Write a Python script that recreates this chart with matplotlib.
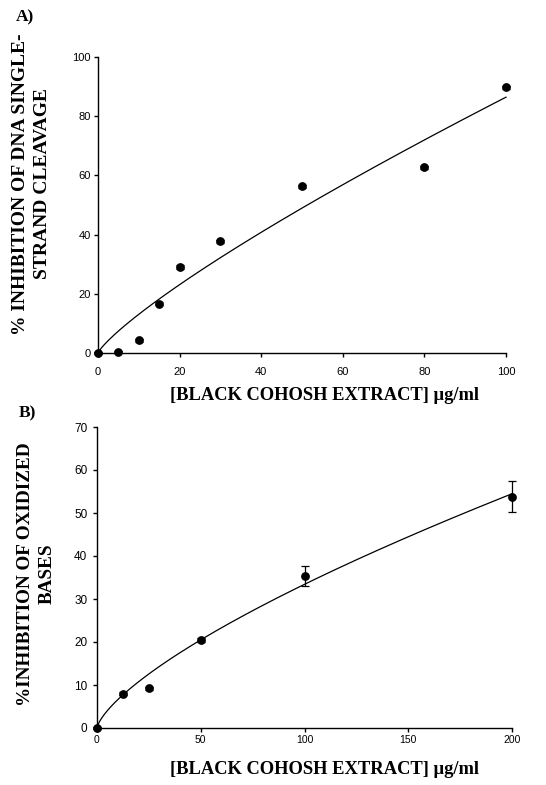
import numpy as np
import matplotlib
matplotlib.use("Agg")
import matplotlib.pyplot as plt

# Panel A data
a_conc = [0, 5, 10, 15, 20, 30, 50, 80, 100]
a_inhib = [0, 0.3, 4.3, 16.7, 29.0, 37.8, 56.3, 62.7, 89.7]
a_err = [0.3, 0.3, 0.5, 0.6, 0.6, 0.5, 0.6, 0.5, 0.6]
a_fit = (1.98, 0.82)  # power-law trend y = a * x^b
a_xticks = [0, 20, 40, 60, 80, 100]
a_yticks = [0, 20, 40, 60, 80, 100]

# Panel B data
b_conc = [0, 12.5, 25, 50, 100, 200]
b_inhib = [0, 8.0, 9.2, 20.4, 35.3, 53.8]
b_err = [0.2, 0.3, 0.3, 0.5, 2.3, 3.6]
b_fit = (1.30, 0.705)
b_xticks = [0, 50, 100, 150, 200]
b_yticks = [0, 10, 20, 30, 40, 50, 60, 70]

xlabel = "[BLACK COHOSH EXTRACT] \u00b5g/ml"
a_ylabel = "% INHIBITION OF DNA SINGLE-\nSTRAND CLEAVAGE"
b_ylabel = "%INHIBITION OF OXIDIZED\nBASES"

serif = ["Liberation Serif", "DejaVu Serif"]
sans = ["Liberation Sans", "DejaVu Sans"]

W, H = 546, 785
fig = plt.figure(figsize=(W/100, H/100), dpi=100)
axA = fig.add_axes([98/W, 1-353/H, (506-98)/W, (353-57)/H])
axB = fig.add_axes([97/W, 1-728/H, (512-97)/W, (728-427)/H])

def style(ax, xt, yt, xmax, ymax):
    ax.set_xlim(0, xmax)
    ax.set_ylim(0, ymax)
    ax.set_xticks(xt)
    ax.set_yticks(yt)
    for s in ("top", "right"):
        ax.spines[s].set_visible(False)
    for s in ("left", "bottom"):
        ax.spines[s].set_linewidth(1.0)
    ax.tick_params(direction="out", length=3, width=1, labelsize=8, pad=2)
    for lab in ax.get_xticklabels() + ax.get_yticklabels():
        lab.set_family(sans)

def draw(ax, x, y, e, fit, xmax):
    xs = np.linspace(0, xmax, 300)
    ax.plot(xs, fit[0] * xs ** fit[1], color="black", lw=0.9, clip_on=False)
    ax.errorbar(x, y, yerr=e, fmt="o", color="black", ms=5.3, capsize=3,
                elinewidth=0.9, capthick=0.9, clip_on=False, zorder=3)

draw(axA, a_conc, a_inhib, a_err, a_fit, 100)
style(axA, a_xticks, a_yticks, 100, 100)
axA.tick_params(axis="x", pad=7)

draw(axB, b_conc, b_inhib, b_err, b_fit, 200)
style(axB, b_xticks, b_yticks, 200, 70)
axB.tick_params(axis="y", labelsize=8.5, pad=4)
axB.tick_params(axis="x", labelsize=7.5, pad=2)

def ftext(x, y, s, **kw):
    fig.text(x/W, 1-y/H, s, family=serif, fontweight="bold", ha="center", va="center", **kw)

ftext(324, 395, xlabel, fontsize=13.3)
ftext(324, 770, xlabel, fontsize=13.3)
ftext(31.5, 184, a_ylabel, fontsize=14, rotation=90, linespacing=1.35)
ftext(36.5, 574, b_ylabel, fontsize=13.8, rotation=90, linespacing=1.35)
ftext(25, 17, "A)", fontsize=12.5)
ftext(27, 413, "B)", fontsize=12.5)

fig.savefig("out.png", dpi=100, facecolor="white")
